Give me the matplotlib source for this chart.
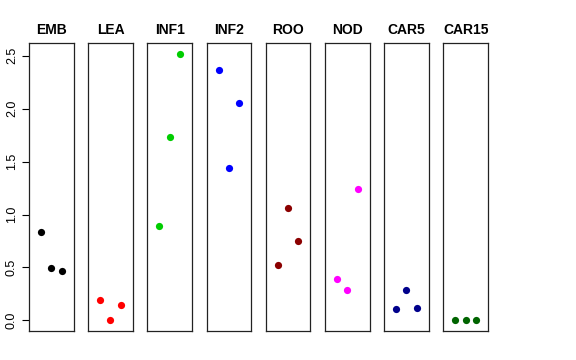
import matplotlib
matplotlib.use('Agg')
import matplotlib.pyplot as plt

plt.rcParams['font.family'] = ['Liberation Sans', 'DejaVu Sans']

groups = ['EMB', 'LEA', 'INF1', 'INF2', 'ROO', 'NOD', 'CAR5', 'CAR15']
colors = ['black', 'red', '#00CD00', 'blue', '#8B0000', 'magenta', '#00008B', '#006400']
values = [
    [0.838, 0.492, 0.466],
    [0.189, 0.000, 0.142],
    [0.892, 1.731, 2.520],
    [2.365, 1.441, 2.053],
    [0.526, 1.065, 0.747],
    [0.388, 0.287, 1.245],
    [0.104, 0.284, 0.119],
    [0.000, 0.000, 0.000],
]
x_pos = [1, 2, 3]
yticks = [0.0, 0.5, 1.0, 1.5, 2.0, 2.5]

W, H = 576, 360
fig = plt.figure(figsize=(W / 100, H / 100), dpi=100)

left0, step, width = 29, 59.2, 44.5
bottom, top = 331, 43
ymin, ymax = -0.1008, 2.6208

for i, (name, col, vals) in enumerate(zip(groups, colors, values)):
    l = left0 + i * step
    ax = fig.add_axes([l / W, (H - bottom) / H, width / W, (bottom - top) / H])
    ax.scatter(x_pos, vals, s=27, color=col, zorder=3, linewidths=0)
    ax.set_xlim(-0.16, 4.16)
    ax.set_ylim(ymin, ymax)
    ax.set_xticks([])
    ax.set_title(name, fontsize=10, fontweight='bold', pad=6.5)
    for sp in ax.spines.values():
        sp.set_linewidth(0.9)
        sp.set_color('#222222')
    if i == 0:
        ax.set_yticks(yticks)
        ax.set_yticklabels(['%.1f' % t for t in yticks], rotation=90, va='center', fontsize=9)
        ax.tick_params(axis='y', length=5, width=0.8, pad=3)
    else:
        ax.set_yticks([])

fig.savefig('out.png', dpi=100)
